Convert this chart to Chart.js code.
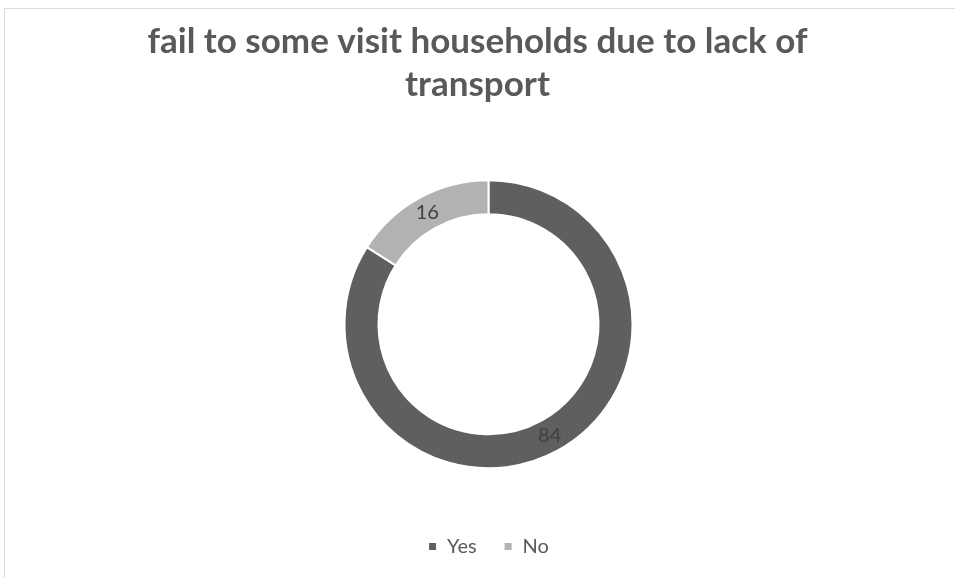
<!DOCTYPE html>
<html>
<head>
<meta charset="utf-8">
<script src="https://cdn.jsdelivr.net/npm/chart.js@4/dist/chart.umd.min.js"></script>
<style>
  html, body { margin: 0; padding: 0; background: #fff; overflow: hidden; }
  #frame {
    position: absolute; left: 4px; top: 8px; width: 980px; height: 600px;
    border: 1px solid #d9d9d9; box-sizing: border-box;
  }
  #wrap { position: absolute; left: 0; top: 0; width: 955px; height: 590px; }
</style>
</head>
<body>
<div id="frame"></div>
<div id="wrap"><canvas id="chart"></canvas></div>
<script>
// answers and counts
const categories = ['Yes', 'No'];
const counts = [84, 16];
const sliceColors = ['#5f5f5f', '#b2b2b2'];
const titleLines = ['fail to some visit households due to lack of', 'transport'];

const FONT = 'Lato, "Open Sans", sans-serif';

// nudges the ring and legend right of the title, as in the workbook layout
const shiftPlot = {
  id: 'shiftPlot',
  afterLayout(chart) {
    const dx = 11;
    chart.chartArea.left += dx;
    chart.chartArea.right += dx;
    chart.legend.left += dx;
    chart.legend.right += dx;
  }
};

// writes each slice value at the middle of its arc
const sliceLabels = {
  id: 'sliceLabels',
  afterDatasetsDraw(chart) {
    const ctx = chart.ctx;
    const meta = chart.getDatasetMeta(0);
    ctx.save();
    ctx.font = '20px ' + FONT;
    ctx.fillStyle = '#404040';
    ctx.textAlign = 'center';
    ctx.textBaseline = 'middle';
    meta.data.forEach((arc, i) => {
      const p = arc.getCenterPoint();
      ctx.fillText(String(counts[i]), p.x, p.y);
    });
    ctx.restore();
  }
};

new Chart(document.getElementById('chart'), {
  type: 'doughnut',
  data: {
    labels: categories,
    datasets: [{
      data: counts,
      backgroundColor: sliceColors,
      borderColor: '#ffffff',
      borderWidth: 2,
      hoverOffset: 0
    }]
  },
  options: {
    responsive: true,
    maintainAspectRatio: false,
    animation: false,
    radius: 144,
    cutout: '76.4%',
    layout: { padding: { top: 0, bottom: 23.5, left: 0, right: 0 } },
    plugins: {
      title: {
        display: true,
        text: titleLines,
        color: '#595959',
        font: { family: FONT, size: 35, weight: 'bold', lineHeight: 1.23 },
        padding: { top: 20.5, bottom: 32.5 }
      },
      legend: {
        position: 'bottom',
        labels: {
          color: '#595959',
          font: { family: FONT, size: 20 },
          boxWidth: 9,
          boxHeight: 9,
          padding: 27
        }
      },
      tooltip: { enabled: false }
    }
  },
  plugins: [shiftPlot, sliceLabels]
});
</script>
</body>
</html>
